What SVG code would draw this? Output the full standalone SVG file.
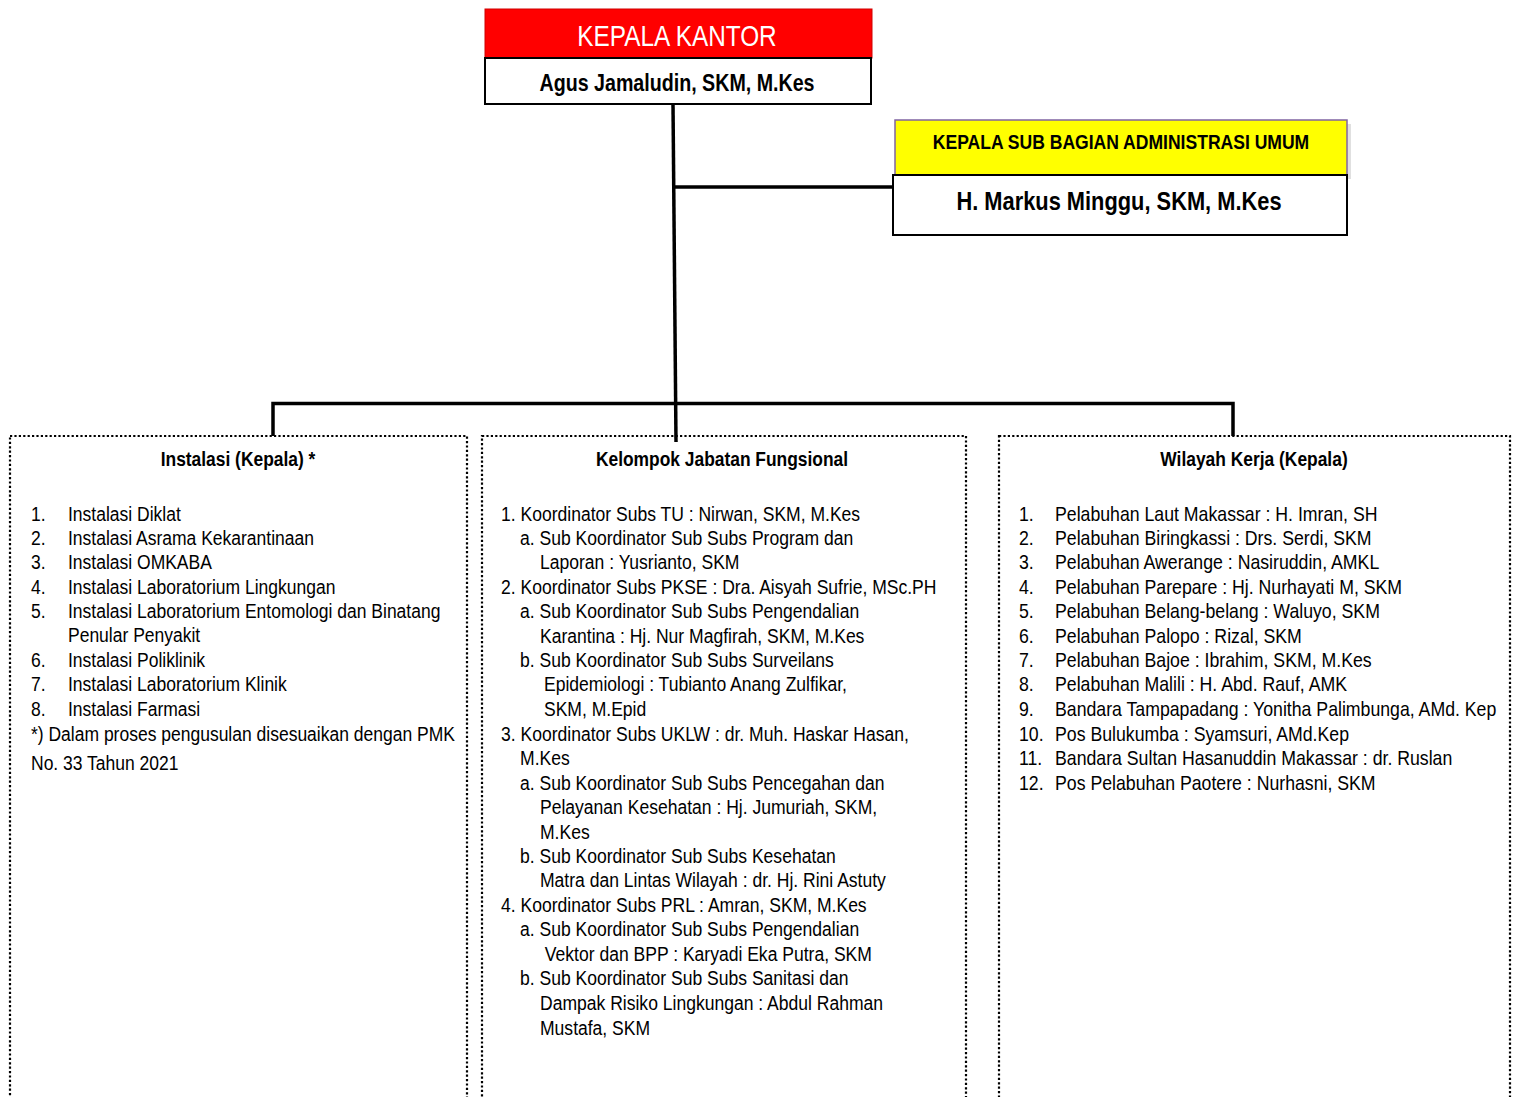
<svg xmlns="http://www.w3.org/2000/svg" width="1520" height="1097" viewBox="0 0 1520 1097">
<style>
text{font-family:"Liberation Sans",Arial,sans-serif;fill:#000}
.t{font-size:20px}
.h{font-size:20px;font-weight:bold}
.conn{stroke:#000;stroke-width:3.5;fill:none}
.dot{fill:none;stroke:#000;stroke-width:2.2;stroke-dasharray:2.2 2.2}
</style>
<rect width="1520" height="1097" fill="#fff"/>
<g id="connectors">
<line class="conn" x1="673" y1="104" x2="676" y2="442"/>
<line class="conn" x1="673" y1="187" x2="894" y2="187"/>
<polyline class="conn" points="273,436 273,403.5 1233,403.5 1233,436"/>
</g>
<g id="kepala-kantor">
<rect x="485" y="9" width="387" height="49" fill="#FF0000" stroke="#D00000" stroke-width="1"/>
<text transform="translate(677,46) scale(0.84,1)" text-anchor="middle" style="font-size:29px;fill:#fff">KEPALA KANTOR</text>
<rect x="485" y="58" width="386" height="46" fill="#fff" stroke="#000" stroke-width="2"/>
<text transform="translate(677,91) scale(0.855,1)" text-anchor="middle" style="font-size:23px;font-weight:bold">Agus Jamaludin, SKM, M.Kes</text>
</g>
<g id="kasubag">
<rect x="899" y="124" width="452" height="55" fill="#000" opacity="0.12"/>
<rect x="895" y="120" width="452" height="55" fill="#FFFF00" stroke="#8064A2" stroke-width="1.5"/>
<text transform="translate(1121,149) scale(0.878,1)" text-anchor="middle" style="font-size:20px;font-weight:bold">KEPALA SUB BAGIAN ADMINISTRASI UMUM</text>
<rect x="893" y="175" width="454" height="60" fill="#fff" stroke="#000" stroke-width="2"/>
<text transform="translate(1119,210) scale(0.84,1)" text-anchor="middle" style="font-size:26px;font-weight:bold">H. Markus Minggu, SKM, M.Kes</text>
</g>
<g id="instalasi">
<rect class="dot" x="10" y="436" width="457" height="680"/>
<text class="h" transform="translate(238,466) scale(0.87,1)" text-anchor="middle">Instalasi (Kepala) *</text>
<g transform="translate(31,0) scale(0.875,1)" class="t">
<text y="521">1.</text><text x="42.3" y="521">Instalasi Diklat</text>
<text y="545">2.</text><text x="42.3" y="545">Instalasi Asrama Kekarantinaan</text>
<text y="569">3.</text><text x="42.3" y="569">Instalasi OMKABA</text>
<text y="594">4.</text><text x="42.3" y="594">Instalasi Laboratorium Lingkungan</text>
<text y="618">5.</text><text x="42.3" y="618">Instalasi Laboratorium Entomologi dan Binatang</text>
<text x="42.3" y="642">Penular Penyakit</text>
<text y="667">6.</text><text x="42.3" y="667">Instalasi Poliklinik</text>
<text y="691">7.</text><text x="42.3" y="691">Instalasi Laboratorium Klinik</text>
<text y="716">8.</text><text x="42.3" y="716">Instalasi Farmasi</text>
<text y="741">*) Dalam proses pengusulan disesuaikan dengan PMK</text>
<text y="770">No. 33 Tahun 2021</text>
</g>
</g>
<g id="fungsional">
<rect class="dot" x="482" y="436" width="484" height="680"/>
<text class="h" transform="translate(722,466) scale(0.87,1)" text-anchor="middle">Kelompok Jabatan Fungsional</text>
<g transform="translate(501,0) scale(0.877,1)" class="t">
<text y="521">1. Koordinator Subs TU : Nirwan, SKM, M.Kes</text>
<text x="21.7" y="545">a. Sub Koordinator Sub Subs Program dan</text>
<text x="44.5" y="569">Laporan : Yusrianto, SKM</text>
<text y="594">2. Koordinator Subs PKSE : Dra. Aisyah Sufrie, MSc.PH</text>
<text x="21.7" y="618">a. Sub Koordinator Sub Subs Pengendalian</text>
<text x="44.5" y="643">Karantina : Hj. Nur Magfirah, SKM, M.Kes</text>
<text x="21.7" y="667">b. Sub Koordinator Sub Subs Surveilans</text>
<text x="49" y="691">Epidemiologi : Tubianto Anang Zulfikar,</text>
<text x="49" y="716">SKM, M.Epid</text>
<text y="741">3. Koordinator Subs UKLW : dr. Muh. Haskar Hasan,</text>
<text x="21.7" y="765">M.Kes</text>
<text x="21.7" y="790">a. Sub Koordinator Sub Subs Pencegahan dan</text>
<text x="44.5" y="814">Pelayanan Kesehatan : Hj. Jumuriah, SKM,</text>
<text x="44.5" y="839">M.Kes</text>
<text x="21.7" y="863">b. Sub Koordinator Sub Subs Kesehatan</text>
<text x="44.5" y="887">Matra dan Lintas Wilayah : dr. Hj. Rini Astuty</text>
<text y="912">4. Koordinator Subs PRL : Amran, SKM, M.Kes</text>
<text x="21.7" y="936">a. Sub Koordinator Sub Subs Pengendalian</text>
<text x="50" y="961">Vektor dan BPP : Karyadi Eka Putra, SKM</text>
<text x="21.7" y="985">b. Sub Koordinator Sub Subs Sanitasi dan</text>
<text x="44.5" y="1010">Dampak Risiko Lingkungan : Abdul Rahman</text>
<text x="44.5" y="1035">Mustafa, SKM</text>
</g>
</g>
<g id="wilayah">
<rect class="dot" x="999" y="436" width="511" height="680"/>
<text class="h" transform="translate(1254,466) scale(0.87,1)" text-anchor="middle">Wilayah Kerja (Kepala)</text>
<g transform="translate(1019,0) scale(0.885,1)" class="t">
<text y="521">1.</text><text x="40.7" y="521">Pelabuhan Laut Makassar : H. Imran, SH</text>
<text y="545">2.</text><text x="40.7" y="545">Pelabuhan Biringkassi : Drs. Serdi, SKM</text>
<text y="569">3.</text><text x="40.7" y="569">Pelabuhan Awerange : Nasiruddin, AMKL</text>
<text y="594">4.</text><text x="40.7" y="594">Pelabuhan Parepare : Hj. Nurhayati M, SKM</text>
<text y="618">5.</text><text x="40.7" y="618">Pelabuhan Belang-belang : Waluyo, SKM</text>
<text y="643">6.</text><text x="40.7" y="643">Pelabuhan Palopo : Rizal, SKM</text>
<text y="667">7.</text><text x="40.7" y="667">Pelabuhan Bajoe : Ibrahim, SKM, M.Kes</text>
<text y="691">8.</text><text x="40.7" y="691">Pelabuhan Malili : H. Abd. Rauf, AMK</text>
<text y="716">9.</text><text x="40.7" y="716">Bandara Tampapadang : Yonitha Palimbunga, AMd. Kep</text>
<text y="741">10.</text><text x="40.7" y="741">Pos Bulukumba : Syamsuri, AMd.Kep</text>
<text y="765">11.</text><text x="40.7" y="765">Bandara Sultan Hasanuddin Makassar : dr. Ruslan</text>
<text y="790">12.</text><text x="40.7" y="790">Pos Pelabuhan Paotere : Nurhasni, SKM</text>
</g>
</g>
</svg>
